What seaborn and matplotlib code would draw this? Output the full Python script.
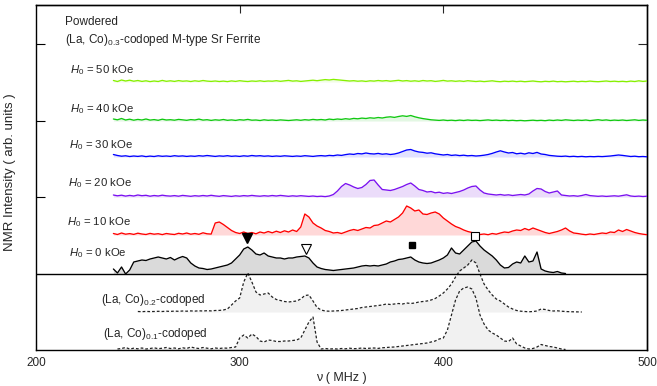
import numpy as np
import pandas as pd
import matplotlib
matplotlib.use("Agg")
import matplotlib.pyplot as plt
import seaborn as sns

# ---------------- data (heights above each trace's own baseline, arb. units) ----------------
nu_top = np.arange(238, 501, 2)          # 238 .. 500 MHz
nu_zero = np.arange(238, 461, 2)         # 238 .. 460 MHz
nu_c02 = np.arange(250, 469, 2)          # 250 .. 468 MHz
nu_c01 = np.arange(240, 461, 2)          # 240 .. 460 MHz

h50 = [1.5, 0.5, 2.0, 1.0, 1.8, 0.8, 1.5, 0.6, 1.2, 0.4, 1.0, 0.5, 1.6, 0.7, 1.2,
       0.6, 1.4, 0.8, 1.1, 0.5, 1.2, 0.7, 1.5, 0.9, 0.6, 1.0, 0.5, 0.9, 0.4, 1.1,
       0.6, 1.3, 0.8, 0.5, 1.0, 0.7, 1.2, 0.6, 1.0, 0.8, 1.3, 0.7, 1.1, 1.6, 0.9,
       1.2, 0.6, 1.0, 1.4, 1.8, 1.3, 1.9, 2.4, 2.0, 2.6, 2.2, 1.8, 1.5, 1.0, 1.3,
       0.8, 1.1, 0.6, 1.2, 0.9, 1.5, 1.0, 1.4, 0.8, 1.3, 1.7, 1.0, 1.4, 0.8, 1.2,
       0.7, 1.5, 1.0, 1.3, 0.6, 1.0, 1.6, 0.9, 1.2, 0.7, 1.1, 0.6, 1.3, 0.9, 0.5,
       0.9, 0.4, 0.8, 1.2, 0.6, 0.3, 0.8, 0.5, 0.9, 0.4, 0.8, 0.3, 0.7, 1.0, 0.5,
       0.2, 0.7, 0.4, 0.9, 0.3, 0.6, 0.2, 0.5, 0.8, 0.3, 0.7, 0.4, 0.9, 0.5, 0.3,
       0.6, 1.0, 0.5, 0.8, 0.4, 0.7, 0.3, 0.9, 0.5, 1.2, 0.6, 1.0]

h40 = [2.0, 1.2, 2.5, 1.0, 1.8, 0.8, 1.6, 1.0, 2.0, 0.9, 1.4, 0.7, 1.8, 1.0, 1.3,
       0.8, 1.6, 1.1, 0.7, 1.4, 1.0, 1.9, 0.9, 1.3, 0.6, 1.2, 0.8, 1.5, 0.7, 1.1,
       0.6, 1.3, 0.9, 1.6, 0.8, 1.0, 0.5, 1.2, 0.7, 1.0, 0.6, 1.1, 0.8, 0.5, 0.9,
       1.2, 0.7, 1.3, 0.9, 1.6, 1.1, 1.5, 1.0, 1.9, 1.4, 2.0, 1.6, 2.3, 1.8, 2.6,
       2.2, 2.9, 2.5, 3.2, 2.8, 3.5, 3.0, 3.8, 4.2, 3.6, 4.5, 5.2, 4.6, 5.5, 4.2,
       3.2, 2.4, 1.8, 1.2, 0.9, 0.6, 1.0, 0.5, 0.8, 0.4, 0.9, 0.5, 1.0, 0.6, 0.8,
       0.4, 0.7, 1.1, 0.6, 0.9, 0.5, 0.8, 0.4, 0.7, 0.3, 0.6, 0.2, 0.5, 0.8, 0.4,
       0.7, 0.3, 0.9, 0.5, 1.0, 0.6, 1.2, 0.8, 0.5, 0.9, 0.6, 1.0, 0.4, 0.8, 1.3,
       0.7, 1.1, 0.5, 0.9, 0.6, 1.0, 0.5, 0.8, 1.2, 0.6, 1.0, 0.7]

h30 = [2.5, 1.5, 0.8, 1.2, 0.5, 1.0, 0.6, 1.1, 0.4, 0.9, 0.5, 1.2, 0.7, 1.0, 0.6,
       1.3, 0.8, 1.1, 0.6, 1.0, 0.7, 1.3, 0.9, 1.5, 1.0, 0.6, 1.1, 0.8, 1.3, 0.7,
       1.0, 0.6, 1.2, 0.8, 1.5, 1.0, 1.3, 0.8, 1.1, 0.6, 1.0, 0.7, 1.2, 0.9, 0.6,
       1.0, 0.7, 1.3, 0.9, 0.6, 1.1, 1.4, 1.0, 1.6, 1.3, 2.0, 1.6, 2.4, 3.0, 2.6,
       3.5, 3.1, 4.0, 3.3, 3.0, 3.6, 2.8, 3.2, 2.5, 3.0, 4.0, 5.5, 7.0, 7.5, 6.0,
       5.0, 4.6, 3.8, 4.2, 3.2, 2.6, 2.0, 2.5, 1.6, 2.0, 1.4, 1.8, 1.2, 1.5, 1.0,
       1.3, 1.8, 2.5, 3.6, 5.0, 6.2, 5.0, 4.0, 4.5, 3.2, 3.8, 3.0, 4.2, 3.5, 4.6,
       3.0, 2.5, 1.6, 1.2, 0.8, 0.6, 0.9, 0.4, 0.7, 0.3, 0.6, 0.2, 0.5, 0.3, 0.6,
       0.4, 0.7, 1.0, 1.5, 2.0, 1.6, 1.0, 0.5, 0.8, 0.3, 0.5, 0.2]

h20 = [2.0, 1.2, 1.8, 0.9, 1.6, 1.0, 2.0, 1.3, 1.7, 0.8, 1.5, 1.0, 1.8, 1.2, 0.9,
       1.4, 0.8, 1.6, 1.1, 0.7, 1.3, 0.9, 1.5, 1.0, 1.7, 1.1, 0.7, 1.4, 1.0, 0.6,
       1.2, 0.8, 1.4, 1.0, 1.6, 1.1, 0.8, 1.3, 0.9, 1.5, 1.0, 1.6, 1.1, 0.7, 1.2,
       0.8, 1.3, 0.9, 0.6, 1.0, 0.5, 0.8, 0.4, 1.0, 2.5, 6.0, 10.5, 13.5, 12.0, 10.0,
       8.5, 9.5, 12.5, 16.5, 17.0, 12.0, 7.5, 7.0, 6.5, 7.5, 9.0, 10.5, 12.5, 14.0, 11.0,
       7.5, 6.5, 5.0, 5.5, 4.2, 4.8, 3.6, 4.2, 3.5, 4.5, 5.5, 7.0, 9.0, 10.5, 11.0,
       7.0, 4.0, 3.0, 2.5, 2.0, 2.5, 1.8, 2.2, 1.5, 2.0, 2.5, 2.0, 3.0, 6.0, 8.5,
       8.0, 5.5, 4.0, 5.0, 6.0, 2.0, 1.5, 1.0, 1.3, 0.8, 1.5, 2.5, 1.4, 1.0, 0.7,
       1.0, 0.6, 0.9, 1.2, 0.8, 1.5, 2.2, 1.0, 0.6, 0.9, 0.5, 0.8]

h10 = [1.5, 0.5, 2.0, 0.8, 1.4, 0.6, 1.8, 1.0, 0.5, 1.6, 0.8, 1.3, 0.4, 1.5, 0.9,
       0.5, 1.7, 1.0, 2.0, 0.8, 1.5, 0.7, 2.2, 1.2, 0.9, 12.0, 13.0, 10.5, 7.5, 4.5,
       2.5, 1.5, 3.0, 1.5, 2.5, 1.2, 3.0, 2.0, 3.5, 2.2, 3.8, 2.5, 4.2, 3.0, 5.0,
       3.5, 8.0, 21.0, 18.0, 12.0, 9.0, 7.0, 4.5, 3.5, 2.0, 2.5, 1.5, 3.0, 4.5, 5.5,
       4.5, 6.0, 7.5, 7.0, 9.5, 10.0, 12.0, 14.0, 13.0, 15.5, 18.0, 22.0, 29.0, 27.0, 24.0,
       25.0, 21.0, 20.5, 22.0, 23.0, 21.0, 17.0, 14.0, 11.0, 8.5, 7.0, 5.0, 3.5, 2.5, 1.0,
       0.5, 1.0, 0.3, 1.5, 0.8, 2.0, 3.0, 2.5, 4.0, 5.0, 4.5, 6.5, 5.0, 7.0, 5.5,
       4.0, 2.5, 1.5, 2.5, 3.5, 5.0, 7.0, 4.0, 2.0, 1.5, 0.8, 0.3, 1.0, 0.5, 1.2,
       2.0, 1.5, 3.0, 2.5, 5.0, 3.5, 5.5, 4.0, 2.5, 1.5, 0.8, 0.3]

h00 = [5.0, 1.0, 7.0, 0.0, 4.0, 12.0, 13.0, 14.0, 13.5, 15.0, 16.0, 17.0, 16.0, 15.0, 16.5,
       14.0, 16.0, 17.5, 16.0, 11.0, 8.0, 6.0, 5.5, 4.5, 5.0, 6.0, 7.0, 8.0, 9.0, 11.0,
       15.0, 19.0, 25.0, 27.0, 24.0, 20.0, 19.0, 21.0, 18.0, 17.0, 16.0, 16.0, 15.0, 16.0, 16.0,
       17.0, 17.5, 18.0, 16.0, 11.0, 7.0, 5.5, 4.5, 4.0, 3.5, 4.0, 4.5, 5.0, 5.5, 6.0,
       7.0, 8.0, 8.5, 8.0, 8.5, 8.0, 9.0, 10.0, 12.0, 13.0, 14.5, 15.0, 16.0, 17.0, 14.0,
       12.0, 11.0, 10.5, 11.0, 12.5, 14.0, 16.0, 19.0, 26.0, 21.0, 20.0, 24.0, 28.0, 32.0, 33.0,
       28.0, 24.0, 21.0, 18.0, 14.0, 9.0, 6.0, 6.5, 10.0, 12.0, 11.0, 18.0, 12.0, 13.0, 22.0,
       5.0, 3.0, 2.0, 1.5, 2.5, 1.0, 0.5]

h_c02 = [0.5, 0.3, 0.6, 0.4, 0.5, 0.7, 0.5, 0.8, 0.6, 0.9, 0.7, 1.0, 0.8, 1.1, 0.9,
         1.2, 1.0, 1.3, 1.1, 1.5, 1.6, 2.0, 3.0, 7.0, 11.0, 14.0, 30.0, 39.0, 30.0, 20.0,
         17.0, 18.0, 19.0, 15.0, 12.5, 11.5, 10.5, 10.0, 10.5, 11.0, 13.0, 16.5, 17.0, 11.0, 4.5,
         2.0, 1.0, 0.8, 1.0, 1.2, 1.5, 2.0, 2.5, 3.0, 3.5, 4.5, 5.0, 5.5, 6.0, 6.5,
         7.0, 8.0, 7.5, 8.0, 8.5, 8.0, 9.0, 8.5, 9.0, 10.0, 10.5, 11.0, 12.0, 13.5, 16.0,
         19.0, 23.0, 28.0, 35.0, 41.0, 44.0, 47.0, 52.0, 49.0, 38.0, 28.0, 22.0, 17.0, 13.0, 11.0,
         8.0, 5.0, 3.0, 1.5, 0.8, 0.5, 0.2, 0.5, 1.0, 3.0, 2.5, 1.5, 1.0, 1.2, 0.8,
         0.5, 0.3, 0.2, 0.1, 0.0]

h_c01 = [1.0, 1.5, 2.5, 1.0, 1.8, 1.2, 2.0, 1.0, 1.5, 2.2, 1.3, 1.8, 2.5, 1.5, 2.0,
         1.2, 2.2, 1.5, 3.0, 2.0, 1.5, 2.5, 1.8, 1.2, 2.0, 1.5, 2.0, 1.8, 2.5, 3.0,
         12.0, 15.0, 12.0, 16.0, 13.5, 9.0, 8.0, 10.0, 9.5, 8.5, 8.5, 9.0, 9.0, 9.5, 10.0,
         12.0, 20.0, 28.0, 33.0, 8.0, 1.0, 1.5, 1.0, 1.2, 1.0, 1.5, 1.2, 1.8, 1.3, 1.5,
         2.0, 1.5, 1.8, 2.0, 1.6, 2.2, 2.5, 2.8, 3.0, 3.5, 4.0, 4.5, 5.0, 5.5, 6.0,
         6.5, 7.0, 8.0, 9.0, 11.0, 12.0, 20.0, 35.0, 50.0, 59.0, 62.0, 63.0, 61.0, 52.0, 35.0,
         26.0, 20.0, 17.0, 15.0, 12.0, 9.0, 8.5, 12.0, 6.0, 4.0, 2.0, 1.0, 1.5, 3.0, 5.5,
         4.5, 3.5, 3.0, 2.0, 1.0, 0.5]

field_labels = ["50", "40", "30", "20", "10", "0"]
sample_labels = ["0.2", "0.1"]

marker_nu = [303.4, 332.4, 384.5, 415.6]
marker_y = [112.3, 100.7, 105.0, 114.3]

# ---------------- style / layout ----------------
sns.set_style("ticks")
plt.rcParams["font.family"] = ["Liberation Sans", "DejaVu Sans"]
plt.rcParams["mathtext.fontset"] = "custom"
plt.rcParams["mathtext.rm"] = "Liberation Sans"
plt.rcParams["mathtext.it"] = "Liberation Sans:italic"
plt.rcParams["mathtext.bf"] = "Liberation Sans:bold"

fig = plt.figure(figsize=(6.57, 3.86), dpi=100)
ax = fig.add_axes([36 / 657, 36 / 386, 611 / 657, 345 / 386])

top_series = [(nu_top, h50), (nu_top, h40), (nu_top, h30), (nu_top, h20), (nu_top, h10), (nu_zero, h00)]
offsets = [268, 229, 193, 153, 115, 76]
line_colors = ["#86f000", "#10c810", "#0000ff", "#7a10f0", "#ff0000", "#000000"]
fill_colors = ["#f1fde4", "#e3f7e3", "#e2e2ff", "#ebdcfa", "#ffd8d8", "#dadada"]
label_px = [70, 70, 69, 68, 67, 69]
label_py = [70, 109, 145, 183, 222, 253]

def px2nu(px):
    return 200 + (px - 36) * 300 / 611

for (nu, h), off, lc, fc in zip(top_series, offsets, line_colors, fill_colors):
    y = off + np.asarray(h)
    ax.fill_between(nu, off, y, color=fc, lw=0, zorder=1)
    sns.lineplot(x=nu, y=y, ax=ax, color=lc, lw=0.95, zorder=3, estimator=None, sort=False)

bottom_series = [(nu_c02, h_c02), (nu_c01, h_c01)]
b_offsets = [38, 0]
b_label_px = [101, 103]
b_label_py = [300, 334]
for (nu, h), off in zip(bottom_series, b_offsets):
    y = off + np.asarray(h)
    ax.fill_between(nu, off, y, color="#f1f1f1", lw=0, zorder=1)
    sns.lineplot(x=nu, y=y, ax=ax, color="#222222", lw=0.9, zorder=3,
                 estimator=None, sort=False, linestyle=(0, (2.2, 1.6)))

ax.axhline(76, color="black", lw=1.0, zorder=4)

# markers
ax.plot(marker_nu[0], marker_y[0], marker="v", ms=7, mfc="black", mec="black", zorder=6)
ax.plot(marker_nu[1], marker_y[1], marker="v", ms=7.5, mfc="white", mec="black", mew=0.8, zorder=6)
ax.plot(marker_nu[2], marker_y[2], marker="s", ms=5, mfc="black", mec="black", zorder=6)
ax.plot(marker_nu[3], marker_y[3], marker="s", ms=5.5, mfc="white", mec="black", mew=0.8, zorder=6)

# texts
ax.text(px2nu(65), 350 - 22, "Powdered", fontsize=8.5, va="center", ha="left")
ax.text(px2nu(65), 350 - 40, r"(La, Co)$_{0.3}$-codoped M-type Sr Ferrite", fontsize=8.5, va="center", ha="left")
for lab, px, py in zip(field_labels, label_px, label_py):
    ax.text(px2nu(px), 350 - py, r"$H_0$ = " + lab + " kOe", fontsize=8.2, va="center", ha="left")
for lab, px, py in zip(sample_labels, b_label_px, b_label_py):
    ax.text(px2nu(px), 350 - py, r"(La, Co)$_{" + lab + "}$-codoped", fontsize=8.5, va="center", ha="left")

ax.set_xlim(200, 500)
ax.set_ylim(0, 345)
ax.set_xticks([200, 300, 400, 500])
ax.set_xticklabels(["200", "300", "400", "500"], fontsize=8.5)
ax.tick_params(axis="x", direction="in", length=7, width=0.8, color="0.55", pad=5)
ax.set_yticks([153, 229.5, 306])
ax.set_yticklabels([])
ax.tick_params(axis="y", direction="in", length=6.5, width=0.8, color="black")
ax.set_xlabel("ν ( MHz )", fontsize=9, labelpad=2)
ax.set_ylabel("NMR Intensity ( arb. units )", fontsize=9.5)
ax.yaxis.set_label_coords(-0.032, 0.516)

sec_top = ax.secondary_xaxis("top")
sec_top.set_xticks([300, 400])
sec_top.set_xticklabels([])
sec_top.tick_params(direction="in", length=6, width=0.8)
sec_right = ax.secondary_yaxis("right")
sec_right.set_yticks([306])
sec_right.set_yticklabels([])
sec_right.tick_params(direction="in", length=6.5, width=0.8)

for s in ax.spines.values():
    s.set_linewidth(1.0)
    s.set_color("black")
for s in list(sec_top.spines.values()) + list(sec_right.spines.values()):
    s.set_linewidth(1.0)

fig.savefig("out.png", dpi=100)
